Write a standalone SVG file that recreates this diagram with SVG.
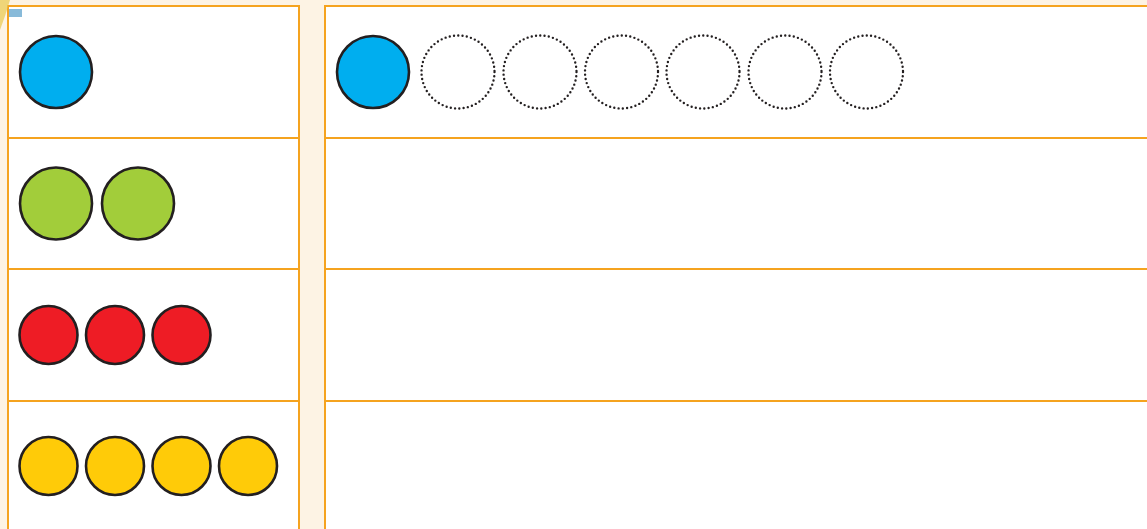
<svg xmlns="http://www.w3.org/2000/svg" width="1147" height="529" viewBox="0 0 1147 529">
<style>
.panel{fill:#ffffff;stroke:#f5a31f;stroke-width:2}
.div{stroke:#f5a31f;stroke-width:2}
.c{stroke:#231f20;stroke-width:2.6}
.blue{fill:#00aeef}
.green{fill:#a2cd3a}
.red{fill:#ee1c25}
.yellow{fill:#ffcb08}
.dot{fill:none;stroke:#231f20;stroke-width:2.4;stroke-dasharray:0 4.3;stroke-linecap:round}
</style>
<rect x="0" y="0" width="1147" height="529" fill="#fdf3e4"/>
<g id="left-panel">
<rect class="panel" x="8" y="6" width="291" height="540"/>
<line class="div" x1="8" y1="138" x2="299" y2="138"/>
<line class="div" x1="8" y1="269" x2="299" y2="269"/>
<line class="div" x1="8" y1="401" x2="299" y2="401"/>
</g>
<g id="right-panel">
<rect class="panel" x="325" y="6" width="840" height="540"/>
<line class="div" x1="325" y1="138" x2="1147" y2="138"/>
<line class="div" x1="325" y1="269" x2="1147" y2="269"/>
<line class="div" x1="325" y1="401" x2="1147" y2="401"/>
</g>
<g id="row1-left"><circle class="c blue" cx="56" cy="72" r="36"/></g>
<g id="row2-left">
<circle class="c green" cx="56" cy="203.5" r="36"/>
<circle class="c green" cx="138" cy="203.5" r="36"/>
</g>
<g id="row3-left">
<circle class="c red" cx="48.5" cy="335" r="29"/>
<circle class="c red" cx="115" cy="335" r="29"/>
<circle class="c red" cx="181.5" cy="335" r="29"/>
</g>
<g id="row4-left">
<circle class="c yellow" cx="48.5" cy="466" r="29"/>
<circle class="c yellow" cx="115" cy="466" r="29"/>
<circle class="c yellow" cx="181.5" cy="466" r="29"/>
<circle class="c yellow" cx="248" cy="466" r="29"/>
</g>
<g id="row1-right">
<circle class="c blue" cx="373" cy="72" r="36"/>
<circle class="dot" cx="458" cy="72" r="36.5"/>
<circle class="dot" cx="540" cy="72" r="36.5"/>
<circle class="dot" cx="621.5" cy="72" r="36.5"/>
<circle class="dot" cx="703" cy="72" r="36.5"/>
<circle class="dot" cx="785" cy="72" r="36.5"/>
<circle class="dot" cx="866.5" cy="72" r="36.5"/>
</g>
<g id="corner">
<path d="M0 0 L10 0 Q6 14 0 30 Z" fill="#e8c74a" opacity="0.7"/>
<rect x="9" y="9" width="13" height="8" fill="#6aa9cf" opacity="0.8"/>
</g>
</svg>
